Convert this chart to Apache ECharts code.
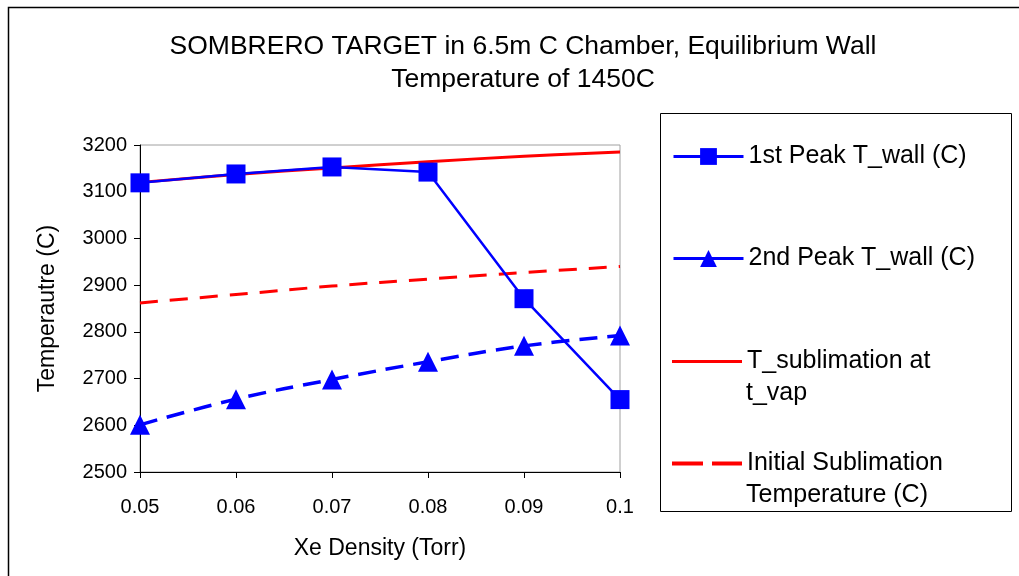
<!DOCTYPE html>
<html>
<head>
<meta charset="utf-8">
<script src="https://cdn.jsdelivr.net/npm/echarts@6/dist/echarts.min.js"></script>
<style>html,body{margin:0;padding:0;background:#fff}#c{width:1019px;height:576px}</style>
</head>
<body>
<div id="c"></div>
<script>
const categories = ['0.05', '0.06', '0.07', '0.08', '0.09', '0.1'];
const firstPeak = [3119, 3138, 3153, 3142, 2871, 2655];
const secondPeak = [2601, 2656, 2698, 2736, 2770, 2792];
const tSublimation = [3120, 3137, 3151, 3164, 3176, 3185];
const initialSublimation = [2862, 2880, 2898, 2913, 2927, 2940];
const yTicks = { min: 2500, max: 3200, interval: 100 };
const seriesNames = ['1st Peak T_wall (C)', '2nd Peak T_wall (C)', 'T_sublimation at t_vap', 'Initial Sublimation Temperature (C)'];
const legendLines = [['1st Peak T_wall (C)'], ['2nd Peak T_wall (C)'], ['T_sublimation at', 't_vap'], ['Initial Sublimation', 'Temperature (C)']];

const FONT = '"Liberation Sans", Arial, sans-serif';
const LFS = 25;
const chart = echarts.init(document.getElementById('c'));

const legendItem = (i, top, extra) => Object.assign({
  show: true,
  orient: 'vertical',
  left: 667,
  top: top,
  itemWidth: 70,
  itemHeight: 21,
  itemGap: 0,
  data: [seriesNames[i]],
  formatter: () => legendLines[i][0],
  textStyle: { fontFamily: FONT, fontSize: LFS, color: '#000' },
  lineStyle: { type: 'solid', width: 3 },
  selectedMode: false
}, extra || {});

chart.setOption({
  animation: false,
  backgroundColor: '#fff',
  title: {
    text: 'SOMBRERO TARGET in 6.5m C Chamber, Equilibrium Wall\nTemperature of 1450C',
    left: 518, textAlign: 'center', top: 25,
    textStyle: { fontFamily: FONT, fontSize: 26.5, fontWeight: 'normal', color: '#000', lineHeight: 33 }
  },
  graphic: [
    { type: 'rect', shape: { x: 8.5, y: 7.5, width: 1100, height: 700 }, style: { fill: 'none', stroke: '#000', lineWidth: 1.5 }, silent: true },
    { type: 'rect', shape: { x: 660.5, y: 113.5, width: 351, height: 398 }, style: { fill: '#fff', stroke: '#000', lineWidth: 1 }, silent: true, z: -1 },
    { type: 'text', left: 746, top: 381, style: { text: legendLines[2][1], font: LFS + 'px ' + FONT, fill: '#000' }, silent: true },
    { type: 'text', left: 746, top: 483, style: { text: legendLines[3][1], font: LFS + 'px ' + FONT, fill: '#000' }, silent: true }
  ],
  legend: [
    legendItem(0, 139),
    legendItem(1, 241),
    legendItem(2, 344, { icon: 'rect', itemHeight: 3 }),
    legendItem(3, 446, { icon: 'path://M0,0h31v4h-31z M40,0h30v4h-30z', itemHeight: 4 })
  ],
  grid: {
    left: 140, right: 399, top: 145, bottom: 104,
    show: true, borderColor: '#a0a0a0', borderWidth: 1, backgroundColor: 'transparent'
  },
  xAxis: {
    type: 'category', data: categories, boundaryGap: false,
    name: 'Xe Density (Torr)', nameLocation: 'middle', nameGap: 65,
    nameTextStyle: { fontFamily: FONT, fontSize: 23, color: '#000' },
    axisLine: { lineStyle: { color: '#000', width: 1 } },
    axisTick: { show: true, inside: false, length: 6, lineStyle: { color: '#000' } },
    axisLabel: { fontFamily: FONT, fontSize: 20, color: '#000', margin: 25 },
    splitLine: { show: false }
  },
  yAxis: {
    type: 'value', min: yTicks.min, max: yTicks.max, interval: yTicks.interval,
    name: 'Temperautre (C)', nameLocation: 'middle', nameGap: 81, nameRotate: 90,
    nameTextStyle: { fontFamily: FONT, fontSize: 23, color: '#000' },
    axisLine: { show: true, lineStyle: { color: '#000', width: 1 } },
    axisTick: { show: true, inside: false, length: 6, lineStyle: { color: '#000' } },
    axisLabel: { fontFamily: FONT, fontSize: 20, color: '#000', margin: 13, formatter: v => String(v) },
    splitLine: { show: false }
  },
  series: [
    {
      name: seriesNames[2], type: 'line', data: tSublimation, smooth: 0.4,
      symbol: 'none', showSymbol: false,
      lineStyle: { color: '#ff0000', width: 3 }, itemStyle: { color: '#ff0000' }, z: 2
    },
    {
      name: seriesNames[3], type: 'line', data: initialSublimation, smooth: 0.4,
      symbol: 'none', showSymbol: false,
      lineStyle: { color: '#ff0000', width: 3, type: [18, 12] }, itemStyle: { color: '#ff0000' }, z: 2
    },
    {
      name: seriesNames[0], type: 'line', data: firstPeak, smooth: false,
      symbol: 'rect', symbolSize: 19,
      lineStyle: { color: '#0000ff', width: 2.5 }, itemStyle: { color: '#0000ff' }, z: 3
    },
    {
      name: seriesNames[1], type: 'line', data: secondPeak, smooth: 0.4,
      symbol: 'triangle', symbolSize: 20,
      lineStyle: { color: '#0000ff', width: 3.5, type: [18, 10] }, itemStyle: { color: '#0000ff' }, z: 3
    }
  ]
});
</script>
</body>
</html>
